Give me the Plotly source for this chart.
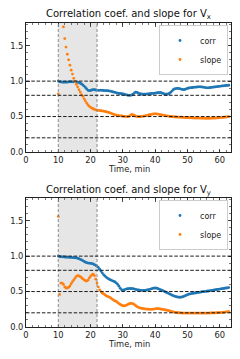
import numpy as np
import plotly.graph_objects as go

# ---------------- data ----------------
TIME_START = 10.0
TIME_STEP = 0.4
N_POINTS = 133
TIME_MIN = np.round(TIME_START + TIME_STEP * np.arange(N_POINTS), 2)

VX_CORR = [
    1.00, 0.99, 0.99, 0.985, 0.985, 0.985, 0.985, 0.985, 0.99, 0.99,
    0.99, 0.99, 0.99, 0.99, 0.99, 0.985, 0.98, 0.97, 0.96, 0.945,
    0.93, 0.91, 0.89, 0.87, 0.865, 0.868, 0.875, 0.88, 0.878, 0.875,
    0.872, 0.87, 0.87, 0.872, 0.87, 0.868, 0.866, 0.866, 0.865, 0.862,
    0.86, 0.855, 0.85, 0.845, 0.84, 0.835, 0.83, 0.825, 0.825, 0.822,
    0.82, 0.815, 0.81, 0.805, 0.80, 0.80, 0.80, 0.805, 0.815, 0.835,
    0.845, 0.84, 0.83, 0.822, 0.818, 0.815, 0.815, 0.816, 0.817, 0.818,
    0.82, 0.822, 0.825, 0.826, 0.828, 0.83, 0.833, 0.836, 0.838, 0.84,
    0.835, 0.828, 0.82, 0.815, 0.815, 0.818, 0.825, 0.84, 0.86, 0.878,
    0.89, 0.895, 0.897, 0.897, 0.893, 0.888, 0.883, 0.88, 0.883, 0.89,
    0.897, 0.903, 0.906, 0.908, 0.91, 0.912, 0.914, 0.916, 0.918, 0.92,
    0.92, 0.918, 0.915, 0.912, 0.909, 0.906, 0.906, 0.908, 0.91, 0.913,
    0.915, 0.918, 0.92, 0.922, 0.925, 0.927, 0.93, 0.932, 0.934, 0.936,
    0.938, 0.94, 0.942,
]

VX_SLOPE = [
    0.82, 2.45, 2.15, 1.93, 1.765, 1.60, 1.48, 1.38, 1.30, 1.225,
    1.155, 1.10, 1.04, 0.995, 0.955, 0.92, 0.88, 0.845, 0.81, 0.785,
    0.75, 0.72, 0.69, 0.665, 0.645, 0.63, 0.62, 0.61, 0.60, 0.595,
    0.59, 0.588, 0.585, 0.582, 0.58, 0.577, 0.573, 0.568, 0.563, 0.558,
    0.552, 0.545, 0.537, 0.53, 0.525, 0.52, 0.517, 0.514, 0.511, 0.508,
    0.505, 0.503, 0.502, 0.50, 0.50, 0.505, 0.52, 0.53, 0.525, 0.515,
    0.505, 0.50, 0.498, 0.498, 0.50, 0.503, 0.506, 0.51, 0.513, 0.517,
    0.522, 0.527, 0.532, 0.535, 0.537, 0.538, 0.537, 0.535, 0.532, 0.528,
    0.524, 0.52, 0.516, 0.513, 0.51, 0.507, 0.504, 0.501, 0.499, 0.497,
    0.495, 0.494, 0.493, 0.492, 0.491, 0.49, 0.489, 0.488, 0.487, 0.486,
    0.485, 0.484, 0.483, 0.482, 0.481, 0.48, 0.48, 0.479, 0.479, 0.478,
    0.478, 0.477, 0.477, 0.477, 0.476, 0.476, 0.476, 0.476, 0.477, 0.477,
    0.478, 0.479, 0.48, 0.481, 0.482, 0.484, 0.486, 0.488, 0.49, 0.492,
    0.494, 0.496, 0.498,
]

VY_CORR = [
    1.00, 0.995, 0.99, 0.99, 0.988, 0.987, 0.985, 0.985, 0.984, 0.983,
    0.982, 0.98, 0.978, 0.976, 0.974, 0.97, 0.963, 0.955, 0.946, 0.936,
    0.925, 0.915, 0.907, 0.902, 0.90, 0.898, 0.895, 0.89, 0.88, 0.87,
    0.858, 0.84, 0.815, 0.79, 0.765, 0.74, 0.72, 0.705, 0.69, 0.678,
    0.668, 0.66, 0.652, 0.645, 0.635, 0.62, 0.60, 0.575, 0.545, 0.525,
    0.52, 0.525, 0.532, 0.538, 0.54, 0.542, 0.543, 0.542, 0.54, 0.535,
    0.53, 0.525, 0.522, 0.52, 0.518, 0.517, 0.517, 0.518, 0.52, 0.523,
    0.527, 0.532, 0.538, 0.544, 0.548, 0.55, 0.548, 0.543, 0.535, 0.527,
    0.52, 0.512, 0.503, 0.494, 0.485, 0.477, 0.468, 0.459, 0.45, 0.442,
    0.435, 0.429, 0.424, 0.421, 0.42, 0.421, 0.424, 0.43, 0.438, 0.447,
    0.455, 0.462, 0.467, 0.471, 0.474, 0.477, 0.48, 0.483, 0.486, 0.489,
    0.492, 0.495, 0.498, 0.50, 0.502, 0.505, 0.508, 0.511, 0.514, 0.517,
    0.52, 0.523, 0.526, 0.529, 0.532, 0.535, 0.538, 0.541, 0.544, 0.547,
    0.55, 0.553, 0.556,
]

VY_SLOPE = [
    1.56, 0.46, 0.62, 0.62, 0.60, 0.565, 0.55, 0.55, 0.56, 0.58,
    0.61, 0.64, 0.665, 0.69, 0.715, 0.725, 0.72, 0.71, 0.695, 0.68,
    0.665, 0.652, 0.648, 0.66, 0.69, 0.715, 0.735, 0.745, 0.725, 0.675,
    0.62, 0.565, 0.525, 0.50, 0.48, 0.468, 0.455, 0.443, 0.432, 0.425,
    0.418, 0.405, 0.39, 0.377, 0.368, 0.36, 0.345, 0.33, 0.318, 0.308,
    0.30, 0.298, 0.302, 0.31, 0.32, 0.328, 0.333, 0.333, 0.327, 0.315,
    0.30, 0.288, 0.278, 0.27, 0.265, 0.261, 0.258, 0.255, 0.253, 0.252,
    0.251, 0.25, 0.25, 0.251, 0.253, 0.256, 0.258, 0.258, 0.256, 0.254,
    0.251, 0.248, 0.245, 0.241, 0.237, 0.233, 0.228, 0.223, 0.218, 0.213,
    0.209, 0.206, 0.203, 0.201, 0.199, 0.198, 0.197, 0.197, 0.197, 0.197,
    0.196, 0.196, 0.196, 0.196, 0.196, 0.196, 0.196, 0.196, 0.196, 0.196,
    0.196, 0.196, 0.196, 0.196, 0.196, 0.197, 0.197, 0.197, 0.198, 0.198,
    0.199, 0.199, 0.20, 0.201, 0.202, 0.203, 0.204, 0.206, 0.208, 0.21,
    0.212, 0.214, 0.216,
]

HLINES = [0.2, 0.5, 0.8, 1.0]
SHADE_START, SHADE_END = 10, 22
TITLES = ["Correlation coef. and slope for V<sub>x</sub>",
          "Correlation coef. and slope for V<sub>y</sub>"]
XLABEL = "Time, min"
SERIES_NAMES = ["corr", "slope"]

# ---------------- styling ----------------
BLUE = "#1f77b4"
ORANGE = "#ff7f0e"
FONT = "DejaVu Sans"
W, H = 240, 359
ML, MR, MT, MB = 26, 9, 23, 32
PH = H - MT - MB

def py(px):  # pixel y -> paper y
    return 1 - (px - MT) / PH

fig = go.Figure()

panels = [
    (VX_CORR, VX_SLOPE, "x", "y", "legend", [py(152), 1.0]),
    (VY_CORR, VY_SLOPE, "x2", "y2", "legend2", [0.0, py(198)]),
]

for corr, slope, xa, ya, leg, dom in panels:
    for vals, name, col in [(corr, SERIES_NAMES[0], BLUE), (slope, SERIES_NAMES[1], ORANGE)]:
        fig.add_trace(go.Scatter(
            x=TIME_MIN, y=vals, mode="markers", name=name,
            marker=dict(color=col, size=2.8, line=dict(width=0)),
            xaxis=xa, yaxis=ya, legend=leg, cliponaxis=True,
        ))
    xref, yref = xa, ya
    fig.add_shape(type="rect", xref=xref, yref=yref + " domain",
                  x0=SHADE_START, x1=SHADE_END, y0=0, y1=1,
                  fillcolor="rgba(128,128,128,0.2)", line=dict(width=0), layer="below")
    for xv in (SHADE_START, SHADE_END):
        fig.add_shape(type="line", xref=xref, yref=yref + " domain",
                      x0=xv, x1=xv, y0=0, y1=1,
                      line=dict(color="#8c8c8c", width=1, dash="3px,2px"), layer="above")
    for hv in HLINES:
        fig.add_shape(type="line", xref=xref + " domain", yref=yref,
                      x0=0, x1=1, y0=hv, y1=hv,
                      line=dict(color="#1a1a1a", width=1, dash="3.5px,1.8px"), layer="above")

axis_common = dict(
    showline=True, linecolor="#222222", linewidth=1, mirror="ticks",
    ticks="inside", ticklen=3.5, tickwidth=0.8, tickcolor="#222222",
    showgrid=False, zeroline=False,
    tickfont=dict(family=FONT, size=8.3, color="#222222"),
)
xaxis_common = dict(axis_common, range=[0, 63.5], tickvals=[0, 10, 20, 30, 40, 50, 60],
                    domain=[0, 1],
                    minor=dict(ticks="inside", ticklen=2, dtick=2, tickcolor="#222222", tickwidth=0.6))
yaxis_common = dict(axis_common, range=[0, 1.82], tickvals=[0.0, 0.5, 1.0, 1.5],
                    ticktext=["0.0", "0.5", "1.0", "1.5"],
                    minor=dict(ticks="inside", ticklen=2, dtick=0.1, tickcolor="#222222", tickwidth=0.6))

legend_common = dict(
    xanchor="right", yanchor="top", x=(228 - ML) / (W - ML - MR),
    bgcolor="rgba(255,255,255,0.85)", bordercolor="#cccccc", borderwidth=1,
    font=dict(family=FONT, size=8, color="#222222"),
    itemsizing="trace", tracegroupgap=0, itemwidth=30,
)

annotations = []
for title, ty, ly in [(TITLES[0], py(15), py(169)), (TITLES[1], py(190), py(344))]:
    annotations.append(dict(text=title, xref="paper", yref="paper", x=0.5, y=ty,
                            xanchor="center", yanchor="middle", showarrow=False,
                            font=dict(family=FONT, size=10, color="#111111")))
    annotations.append(dict(text=XLABEL, xref="paper", yref="paper", x=0.5, y=ly,
                            xanchor="center", yanchor="middle", showarrow=False,
                            font=dict(family=FONT, size=8.3, color="#222222")))

fig.update_layout(
    width=W, height=H,
    margin=dict(l=ML, r=MR, t=MT, b=MB),
    paper_bgcolor="white", plot_bgcolor="white",
    showlegend=True,
    xaxis=dict(xaxis_common, anchor="y"),
    yaxis=dict(yaxis_common, anchor="x", domain=panels[0][5]),
    xaxis2=dict(xaxis_common, anchor="y2"),
    yaxis2=dict(yaxis_common, anchor="x2", domain=panels[1][5]),
    legend=dict(legend_common, y=py(25)),
    legend2=dict(legend_common, y=py(200)),
    annotations=annotations,
    font=dict(family=FONT),
)

fig.write_html(
    "out.html",
    config={"displayModeBar": False, "staticPlot": True},
    post_script="document.body.style.margin='0';document.body.style.overflow='hidden';",
)
